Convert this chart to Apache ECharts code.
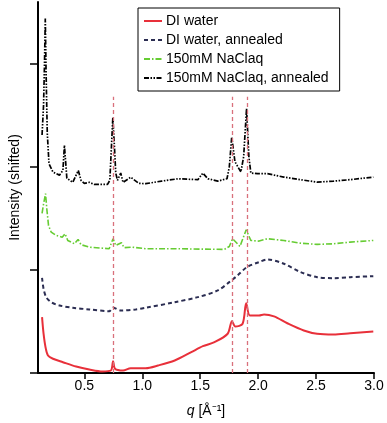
<!DOCTYPE html>
<html>
<head>
<meta charset="utf-8">
<script src="https://cdn.jsdelivr.net/npm/echarts@6/dist/echarts.min.js"></script>
<style>html,body{margin:0;padding:0;background:#fff}#c{width:387px;height:423px}</style>
</head>
<body>
<div id="c"></div>
<script>
var seriesNames = ['DI water', 'DI water, annealed', '150mM NaClaq', '150mM NaClaq, annealed'];
var xTicks = [0.5, 1.0, 1.5, 2.0, 2.5, 3.0];
var yTicks = [0, 1, 2, 3];
var refLinesQ = [0.752, 1.780, 1.903];
var refLineTop = 2.68;

var diWater = [[0.135,0.542],[0.148,0.381],[0.165,0.25],[0.186,0.17],[0.229,0.138],[0.315,0.105],[0.429,0.063],[0.543,0.034],[0.657,0.015],[0.729,0.024],[0.748,0.115],[0.765,0.041],[0.834,0.024],[0.900,0.047],[1.029,0.047],[1.137,0.073],[1.280,0.121],[1.423,0.202],[1.523,0.260],[1.623,0.299],[1.737,0.381],[1.774,0.503],[1.803,0.451],[1.866,0.478],[1.897,0.678],[1.929,0.558],[2.008,0.558],[2.051,0.568],[2.137,0.549],[2.252,0.483],[2.394,0.413],[2.509,0.381],[2.651,0.374],[2.794,0.386],[2.994,0.403]];
var diAnnealed = [[0.135,0.924],[0.148,0.817],[0.171,0.736],[0.214,0.687],[0.285,0.655],[0.400,0.633],[0.543,0.617],[0.714,0.600],[0.748,0.633],[0.814,0.607],[0.943,0.617],[1.029,0.633],[1.280,0.687],[1.480,0.736],[1.652,0.801],[1.751,0.882],[1.823,0.947],[1.903,1.027],[2.008,1.076],[2.080,1.102],[2.222,1.060],[2.366,0.979],[2.509,0.930],[2.651,0.920],[2.794,0.930],[2.994,0.940]];
var nacl = [[0.135,1.55],[0.148,1.64],[0.165,1.74],[0.177,1.58],[0.191,1.43],[0.214,1.367],[0.257,1.335],[0.309,1.318],[0.334,1.351],[0.357,1.286],[0.414,1.254],[0.446,1.296],[0.471,1.245],[0.543,1.221],[0.714,1.206],[0.748,1.303],[0.771,1.238],[0.820,1.264],[0.843,1.216],[0.915,1.221],[1.029,1.206],[1.280,1.206],[1.708,1.199],[1.751,1.228],[1.780,1.303],[1.843,1.228],[1.897,1.39],[1.937,1.286],[2.008,1.280],[2.080,1.303],[2.222,1.286],[2.366,1.260],[2.509,1.248],[2.651,1.254],[2.794,1.27],[2.994,1.286]];
var naclAnnealed = [[0.135,2.31],[0.148,2.60],[0.156,3.0],[0.163,3.44],[0.170,2.9],[0.180,2.33],[0.195,2.03],[0.229,1.95],[0.285,1.92],[0.315,1.966],[0.328,2.21],[0.349,1.89],[0.400,1.85],[0.448,1.965],[0.471,1.87],[0.500,1.84],[0.543,1.85],[0.585,1.83],[0.700,1.83],[0.720,1.87],[0.746,2.48],[0.760,2.19],[0.771,1.94],[0.786,1.87],[0.814,1.94],[0.834,1.85],[0.900,1.90],[0.971,1.84],[1.029,1.837],[1.166,1.862],[1.309,1.885],[1.480,1.876],[1.523,1.94],[1.566,1.885],[1.652,1.862],[1.731,1.885],[1.751,1.998],[1.772,2.29],[1.800,2.05],[1.851,1.95],[1.875,2.1],[1.900,2.565],[1.920,2.1],[1.937,1.94],[1.995,1.934],[2.080,1.934],[2.222,1.901],[2.366,1.876],[2.509,1.852],[2.651,1.862],[2.794,1.876],[2.994,1.901]];

var font = 'Liberation Sans, Arial, sans-serif';
var chart = echarts.init(document.getElementById('c'), null, {renderer: 'canvas'});
var refData = refLinesQ.map(function (q) { return [{coord: [q, 0]}, {coord: [q, refLineTop]}]; });

chart.setOption({
  animation: false,
  backgroundColor: '#fff',
  grid: {left: 36, right: 13, top: 2, bottom: 50},
  legend: {
    orient: 'vertical', left: 138, top: 8,
    padding: [6, 11, 6, 5],
    itemGap: 5, itemWidth: 18, itemHeight: 14,
    borderColor: '#000', borderWidth: 1, borderRadius: 0,
    backgroundColor: '#fff',
    itemStyle: {opacity: 0, borderWidth: 0},
    textStyle: {fontFamily: font, fontSize: 14, color: '#000', padding: [0, 0, 0, -1]},
    data: seriesNames
  },
  xAxis: {
    type: 'value', min: 0.1, max: 3.0,
    splitLine: {show: false},
    axisLine: {onZero: false, lineStyle: {color: '#000', width: 2}},
    axisTick: {show: true, length: 6, lineStyle: {color: '#000', width: 1.5}, customValues: xTicks},
    axisLabel: {fontFamily: font, fontSize: 14, color: '#000', margin: 6, customValues: xTicks,
      formatter: function (v) { return v.toFixed(1); }},
    name: '{i|q} [Å⁻¹]', nameLocation: 'middle', nameGap: 31,
    nameTextStyle: {fontFamily: font, fontSize: 14, color: '#000',
      rich: {i: {fontStyle: 'italic', fontFamily: font, fontSize: 14, color: '#000'}}}
  },
  yAxis: {
    type: 'value', min: 0, max: 3.6,
    splitLine: {show: false},
    axisLine: {show: true, lineStyle: {color: '#000', width: 2}},
    axisTick: {show: true, length: 8, lineStyle: {color: '#000', width: 1.5}, customValues: yTicks},
    axisLabel: {show: false, customValues: yTicks},
    name: 'Intensity (shifted)', nameLocation: 'middle', nameGap: 16,
    nameTextStyle: {fontFamily: font, fontSize: 14, color: '#000'}
  },
  series: [
    {name: seriesNames[0], type: 'line', data: diWater, symbol: 'none', smooth: 0.3,
      lineStyle: {color: '#e8303a', width: 2}, itemStyle: {color: '#e8303a'}, z: 4,
      markLine: {silent: true, symbol: 'none', label: {show: false},
        lineStyle: {color: '#d9707c', width: 1.3, type: [4, 3]}, data: refData}},
    {name: seriesNames[1], type: 'line', data: diAnnealed, symbol: 'none', smooth: 0.3,
      lineStyle: {color: '#2b2d52', width: 2, type: [4, 3]}, itemStyle: {color: '#2b2d52'}},
    {name: seriesNames[2], type: 'line', data: nacl, symbol: 'none', smooth: false,
      lineStyle: {color: '#66cc33', width: 1.6, type: [6, 2, 1.5, 2]}, itemStyle: {color: '#66cc33'}},
    {name: seriesNames[3], type: 'line', data: naclAnnealed, symbol: 'none', smooth: false,
      lineStyle: {color: '#000', width: 1.7, type: [5, 1.5, 1.5, 1.5, 1.5, 1.5]}, itemStyle: {color: '#000'}}
  ]
});
</script>
</body>
</html>
